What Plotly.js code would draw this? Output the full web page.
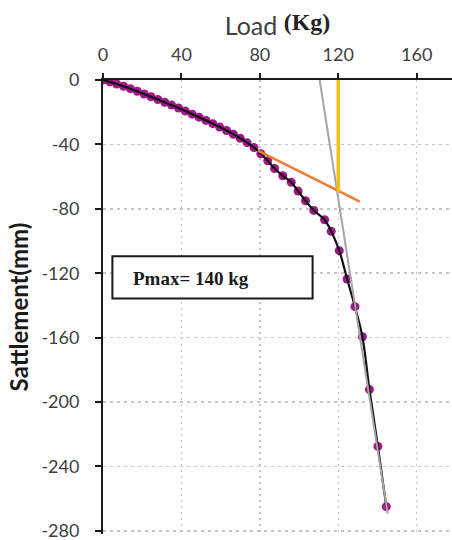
<!DOCTYPE html>
<html>
<head>
<meta charset="utf-8">
<script src="https://cdn.plot.ly/plotly-3.0.1.min.js"></script>
<style>html,body{margin:0;padding:0;background:#fff;}#chart{width:452px;height:540px;}</style>
</head>
<body>
<div id="chart"></div>
<script>
// Measured load-settlement points
const load = [0, 3.5, 7, 10.5, 14, 17.5, 21, 24.5, 28, 31.5, 35, 38.5, 42, 45.5, 49, 52.5, 56, 59.5, 63, 66.5, 70, 73.5, 77, 80.5, 84, 87.5, 91.7, 96, 99.5, 103.3, 107.5, 113, 116.4, 120.5, 124.5, 128.5, 132.3, 135.9, 140.2, 144.5];
const settlement = [0, -1.2, -2.5, -3.9, -5.4, -7.0, -8.7, -10.4, -12.1, -13.8, -15.6, -17.4, -19.3, -21.2, -23.1, -25.1, -27.1, -29.2, -31.4, -33.7, -36.2, -38.9, -42.0, -45.8, -50.2, -55.0, -59.5, -63.5, -69.0, -75.0, -81.0, -86.8, -94.0, -106.0, -123.6, -140.8, -159.5, -192.3, -227.6, -265.0];

// Construction lines
const tangentX = [79, 131];
const tangentY = [-43.8, -75.5];
const asymptoteX = [110.5, 145.2];
const asymptoteY = [0, -269.4];
const failureX = [120, 120];
const failureY = [0, -69.5];

const xTicks = [0, 40, 80, 120, 160];
const yTicks = [0, -40, -80, -120, -160, -200, -240, -280];
const boxLabel = 'Pmax= 140 kg';

const traces = [
  {x: load, y: settlement, mode: 'markers', type: 'scatter',
   marker: {color: '#a0188a', size: 9}, hoverinfo: 'x+y'},
  {x: load, y: settlement, mode: 'lines', type: 'scatter',
   line: {color: '#111111', width: 2.2, shape: 'spline', smoothing: 1}},
  {x: asymptoteX, y: asymptoteY, mode: 'lines', type: 'scatter',
   line: {color: '#a5a5a5', width: 2}},
  {x: tangentX, y: tangentY, mode: 'lines', type: 'scatter',
   line: {color: '#ed7d31', width: 2.5}},
  {x: failureX, y: failureY, mode: 'lines', type: 'scatter',
   line: {color: '#f5c010', width: 3.5}}
];

const axisCommon = {
  showline: true, linecolor: '#1a1a1a', linewidth: 2,
  ticks: 'outside', tickcolor: '#1a1a1a', tickwidth: 2,
  showgrid: true, gridcolor: '#c6c6c6', gridwidth: 1.5,
  zeroline: false, automargin: false, ticklabeloverflow: 'allow',
  tickfont: {family: 'Lato', size: 18, color: '#404040'}
};

const layout = {
  width: 452, height: 540,
  margin: {l: 103, r: 0, t: 80, b: 6, pad: 0},
  paper_bgcolor: '#ffffff', plot_bgcolor: '#ffffff',
  showlegend: false,
  xaxis: Object.assign({}, axisCommon, {
    side: 'top', range: [0, 178], tickvals: xTicks, ticktext: xTicks.map(String),
    ticklen: 5, ticklabelstandoff: 5, griddash: '2px,4px',
    title: {text: 'Load <span style="font-family:\'Liberation Serif\';font-weight:bold;font-size:24px;baseline-shift:5px;fill:#222">(Kg)</span>',
            font: {family: 'Lato', size: 25, color: '#404040'}, standoff: 0}
  }),
  yaxis: Object.assign({}, axisCommon, {
    range: [-282, 0], tickvals: yTicks, ticktext: yTicks.map(String),
    ticklen: 6, ticklabelstandoff: 12, griddash: '3px,4px',
    title: {text: 'Sattlement(mm)', font: {family: 'Lato', size: 24, color: '#1a1a1a', weight: 'bold'}, standoff: 6}
  }),
  shapes: [
    {type: 'rect', xref: 'x', yref: 'y', x0: 4.8, x1: 106.9, y0: -109.5, y1: -135.7,
     line: {color: '#1a1a1a', width: 2}, fillcolor: '#ffffff', layer: 'between'}
  ],
  annotations: [
    {xref: 'x', yref: 'y', x: 14.5, y: -123.5, xanchor: 'left', yanchor: 'middle',
     text: boxLabel, showarrow: false,
     font: {family: 'Liberation Serif', size: 19, color: '#1a1a1a', weight: 'bold'}}
  ]
};

Plotly.newPlot('chart', traces, layout, {displayModeBar: false, staticPlot: true});
</script>
</body>
</html>
